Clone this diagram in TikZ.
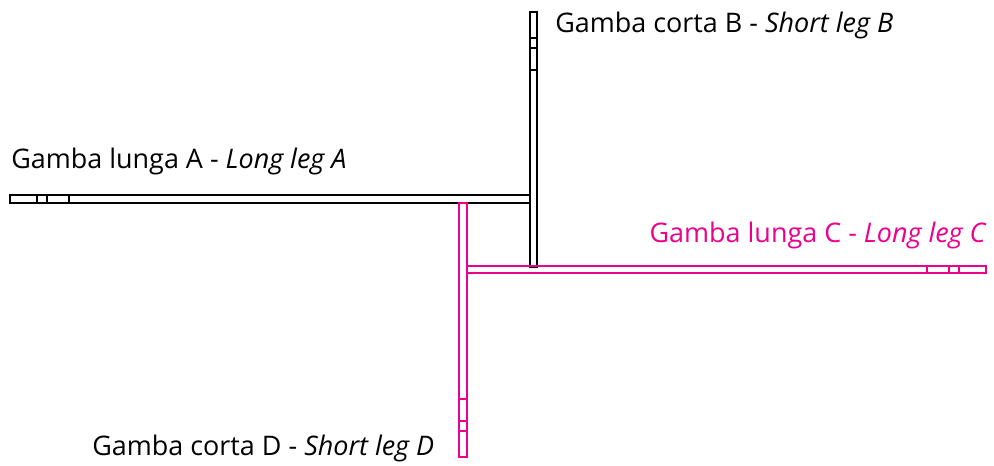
\documentclass[tikz,border=0pt]{standalone}
\usepackage{fontspec}
\setmainfont{Open Sans}
\usetikzlibrary{positioning}
\definecolor{legpink}{RGB}{236,0,140}

\begin{document}
\begin{tikzpicture}
	% Styles
	[
	x=0.75pt, y=-0.75pt,
	blackleg/.style={draw=black, line width=1.6pt},
	pinkleg/.style={draw=legpink, line width=1.8pt},
	blacklabel/.style={anchor=base west, inner sep=0pt, font=\fontsize{20.2pt}{24pt}\selectfont, text=black},
	pinklabel/.style={anchor=base east, inner sep=0pt, font=\fontsize{20.2pt}{24pt}\selectfont, text=legpink}
	]
	\useasboundingbox (0,0) rectangle (994,466);

	% Legs
	\draw[blackleg] (10,195) rectangle (530,203);
	\draw[blackleg] (530,12) rectangle (537,267);
	\draw[pinkleg] (467,266) rectangle (986,273);
	\draw[pinkleg] (459,203) rectangle (467,457);

	% Ticks
	\foreach \x in {37,47,69}
		\draw[blackleg] (\x,195) -- (\x,203);
	\foreach \y in {38,48,70}
		\draw[blackleg] (530,\y) -- (537,\y);
	\foreach \x in {927,949,959}
		\draw[pinkleg] (\x,266) -- (\x,273);
	\foreach \y in {399,421,431}
		\draw[pinkleg] (459,\y) -- (467,\y);

	% Nodes
	\node at (11,168.5)	(longa)	[blacklabel] {Gamba lunga A - \textit{Long leg A}};
	\node at (555,33)	(shortb)	[blacklabel] {Gamba corta B - \textit{Short leg B}};
	\node at (987,243)	(longc)	[pinklabel] {Gamba lunga C - \textit{Long leg C}};
	\node at (92,455)	(shortd)	[blacklabel] {Gamba corta D - \textit{Short leg D}};

\end{tikzpicture}
\end{document}
